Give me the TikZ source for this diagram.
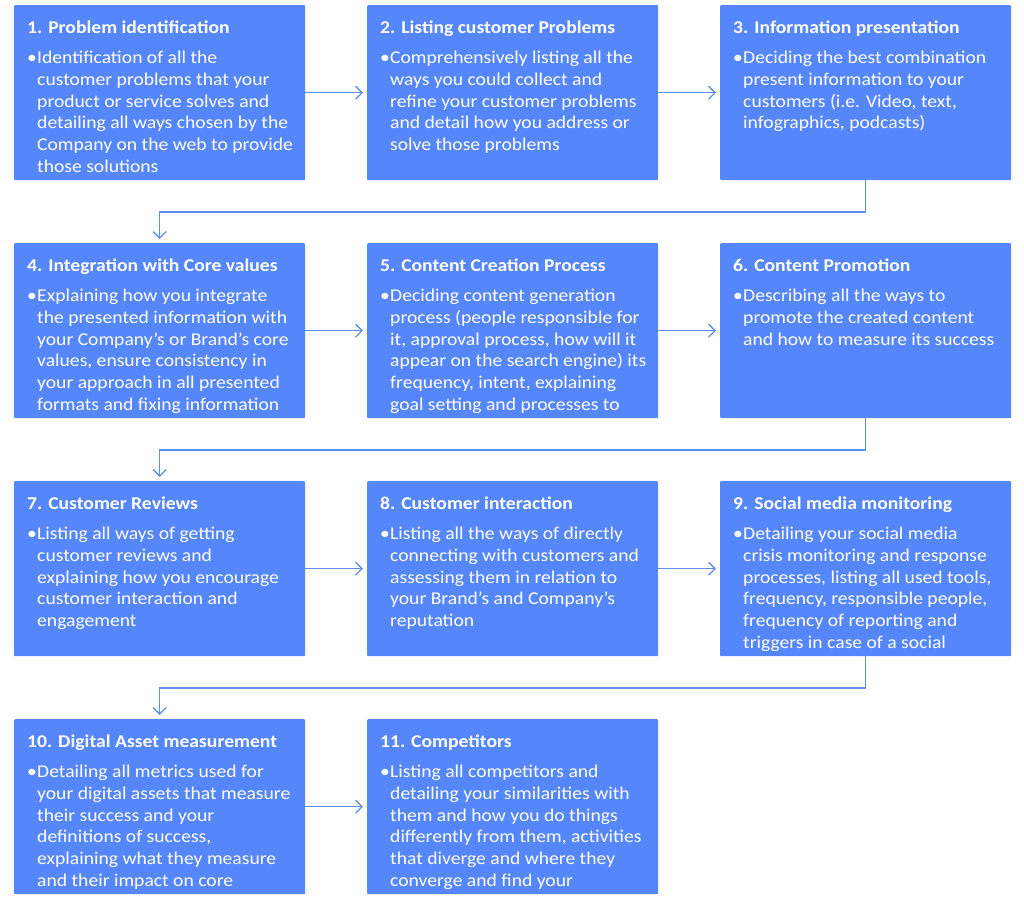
\documentclass[tikz,border=0pt]{standalone}
\usepackage{fontspec}
\setmainfont[FakeStretch=1.09]{Carlito}
\usetikzlibrary{arrows.meta}

\definecolor{stepblue}{RGB}{85,134,250}
\definecolor{flowblue}{RGB}{98,140,238}

% title, then one bullet with its lines
\newcommand{\stepcontent}[2]{%
  \parbox[t][143pt][t]{265pt}{\raggedright\fontsize{18}{21.7}\selectfont
    \textbf{#1}\par\vspace{8.3pt}%
    \makebox[10pt][l]{\textbullet}\begin{tabular}[t]{@{}l@{}}#2\end{tabular}}}

\begin{document}
\begin{tikzpicture}[x=1pt, y=-1pt,
    stepbox/.style={fill=stepblue, text=white, anchor=north west,
      inner xsep=13pt, inner ysep=16pt, rounded corners=1pt},
    flow/.style={draw=flowblue, line width=1.3pt, shorten >=4pt,
      -{Straight Barb[length=6.5pt,width=13pt]}}]
    \useasboundingbox (0,0) rectangle (1024,906);

    % Row 1
    \node[stepbox] (p1) at (14,5) {\stepcontent{1. Problem identification}{Identification of all the\\customer problems that your\\product or service solves and\\detailing all ways chosen by the\\Company on the web to provide\\those solutions}};
    \node[stepbox] (p2) at (367,5) {\stepcontent{2. Listing customer Problems}{Comprehensively listing all the\\ways you could collect and\\refine your customer problems\\and detail how you address or\\solve those problems}};
    \node[stepbox] (p3) at (720,5) {\stepcontent{3. Information presentation}{Deciding the best combination\\present information to your\\customers (i.e. Video, text,\\infographics, podcasts)}};

    % Row 2
    \node[stepbox] (p4) at (14,243) {\stepcontent{4. Integration with Core values}{Explaining how you integrate\\the presented information with\\your Company's or Brand's core\\values, ensure consistency in\\your approach in all presented\\formats and fixing information}};
    \node[stepbox] (p5) at (367,243) {\stepcontent{5. Content Creation Process}{Deciding content generation\\process (people responsible for\\it, approval process, how will it\\appear on the search engine) its\\frequency, intent, explaining\\goal setting and processes to}};
    \node[stepbox] (p6) at (720,243) {\stepcontent{6. Content Promotion}{Describing all the ways to\\promote the created content\\and how to measure its success}};

    % Row 3
    \node[stepbox] (p7) at (14,481) {\stepcontent{7. Customer Reviews}{Listing all ways of getting\\customer reviews and\\explaining how you encourage\\customer interaction and\\engagement}};
    \node[stepbox] (p8) at (367,481) {\stepcontent{8. Customer interaction}{Listing all the ways of directly\\connecting with customers and\\assessing them in relation to\\your Brand's and Company's\\reputation}};
    \node[stepbox] (p9) at (720,481) {\stepcontent{9. Social media monitoring}{Detailing your social media\\crisis monitoring and response\\processes, listing all used tools,\\frequency, responsible people,\\frequency of reporting and\\triggers in case of a social}};

    % Row 4
    \node[stepbox] (p10) at (14,719) {\stepcontent{10. Digital Asset measurement}{Detailing all metrics used for\\your digital assets that measure\\their success and your\\definitions of success,\\explaining what they measure\\and their impact on core}};
    \node[stepbox] (p11) at (367,719) {\stepcontent{11. Competitors}{Listing all competitors and\\detailing your similarities with\\them and how you do things\\differently from them, activities\\that diverge and where they\\converge and find your}};

    % Arrows within a row
    \foreach \a/\b in {p1/p2, p2/p3, p4/p5, p5/p6, p7/p8, p8/p9, p10/p11}
      \draw[flow] (\a) -- (\b);

    % Arrows to the next row
    \foreach \a/\b in {p3/p4, p6/p7, p9/p10}
      \draw[flow] (\a.south) -- ++(0,31.5) -| (\b.north);
\end{tikzpicture}
\end{document}
